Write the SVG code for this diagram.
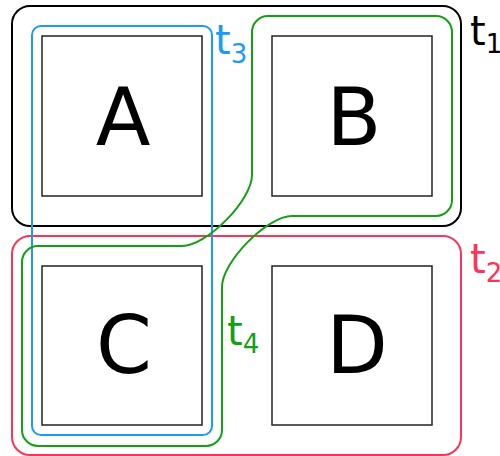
<svg xmlns="http://www.w3.org/2000/svg" width="500" height="456" viewBox="0 0 500 456">
  <style>
    .box { fill: #ffffff; stroke: #222222; stroke-width: 1.5; }
    .name { font-family: "DejaVu Sans", Verdana, sans-serif; font-size: 80px; fill: #000000; text-anchor: middle; }
    .region { fill: none; stroke-width: 2; }
    .lbl { font-family: "DejaVu Sans", Verdana, sans-serif; font-size: 40px; }
    .sub { font-size: 26px; }
  </style>
  <rect width="500" height="456" fill="#ffffff"/>

  <!-- nodes -->
  <g id="node-A">
    <rect class="box" x="42" y="36" width="160" height="160"/>
    <text class="name" x="123" y="145">A</text>
  </g>
  <g id="node-B">
    <rect class="box" x="272" y="36" width="160" height="160"/>
    <text class="name" x="354" y="145">B</text>
  </g>
  <g id="node-C">
    <rect class="box" x="42" y="266" width="160" height="159"/>
    <text class="name" x="124" y="373">C</text>
  </g>
  <g id="node-D">
    <rect class="box" x="272" y="266" width="160" height="159"/>
    <text class="name" x="357" y="373">D</text>
  </g>

  <!-- region outlines -->
  <g id="regions">
    <g id="t1">
      <rect class="region" stroke="#000000" x="12" y="6" width="449" height="220" rx="18" ry="18"/>
      <text class="lbl" fill="#000000" x="470" y="45">t<tspan class="sub" dy="8">1</tspan></text>
    </g>
    <g id="t2">
      <rect class="region" stroke="#ff3358" x="12" y="236" width="449" height="219" rx="18" ry="18"/>
      <text class="lbl" fill="#ff3358" x="470" y="273">t<tspan class="sub" dy="9">2</tspan></text>
    </g>
    <g id="t3">
      <rect class="region" stroke="#1a9cf5" x="32" y="26" width="180" height="409" rx="9" ry="9"/>
      <text class="lbl" fill="#1a9cf5" x="215" y="54">t<tspan class="sub" dy="9">3</tspan></text>
    </g>
    <g id="t4">
      <path class="region" stroke="#13a013" d="M 292 216 H 436 A 16 16 0 0 0 452 200 V 32 A 16 16 0 0 0 436 16 H 268 A 16 16 0 0 0 252 32 V 175 C 252 200 207 246 182 246 H 38 A 16 16 0 0 0 22 262 V 430 A 16 16 0 0 0 38 446 H 206 A 16 16 0 0 0 222 430 V 287 C 222 262 267 216 292 216 Z"/>
      <text class="lbl" fill="#13a013" x="227" y="345">t<tspan class="sub" dy="8">4</tspan></text>
    </g>
  </g>
</svg>
